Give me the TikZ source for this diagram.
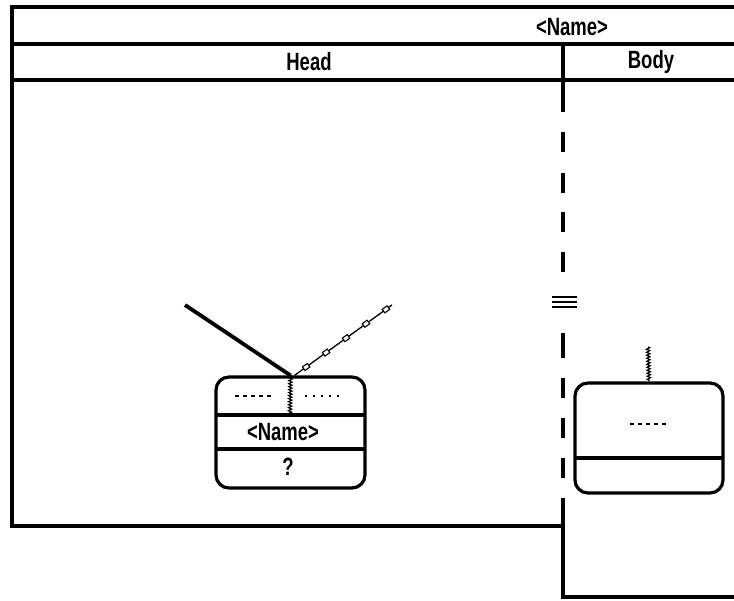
\documentclass[tikz,border=0pt]{standalone}
\usepackage{fontspec}
\usepackage{graphicx}
\setmainfont{Liberation Sans}
\usetikzlibrary{decorations.pathmorphing,decorations.markings,calc}
\newcommand{\tallt}[1]{\scalebox{1}[1.35]{#1}}
\begin{document}
\begin{tikzpicture}[x=1pt,y=-1pt,
  frame/.style={line width=3.5pt},
  lbl/.style={font=\fontsize{18.5}{20}\selectfont\bfseries, inner sep=0pt},
  boxst/.style={draw, line width=3.2pt, rounded corners=13pt, inner sep=0pt},
  wiggle/.style={line width=1.2pt, decorate, decoration={zigzag, segment length=3pt, amplitude=1.6pt}},
  sqline/.style={line width=1.3pt, postaction={decorate}, decoration={markings,
     mark=between positions 0.12 and 0.95 step 0.205 with {\draw[line width=1.1pt, fill=white] (-3,-2.2) rectangle (3,2.2);}}}
]
\useasboundingbox (0,0) rectangle (734,601);
% frame
\coordinate (tl) at (12,7);
\coordinate (tr) at (736,7);
\coordinate (bl) at (12,526);
\coordinate (bm) at (563,526);
\draw[frame] (tr) -- (tl) -- (bl) -- (bm);
\draw[frame] (12,44) -- (736,44);
\draw[frame] (12,80) -- (736,80);
\draw[frame] (563,44) -- (563,112);
\foreach \a/\b in {132/152,173/193,212/232,252/272,333/358,378/398,418/438,458/478} \draw[frame] (563,\a) -- (563,\b);
\draw[frame] (563,498) -- (563,597) -- (736,597);
\draw[line width=1.6pt] (552,297) -- (577,297) (552,302) -- (577,302) (552,307) -- (577,307);
% headings
\node[lbl] (title) at (572,27) {\tallt{<Name>}};
\node[lbl] (head) at (309,62) {\tallt{Head}};
\node[lbl] (body) at (651,62) {\tallt{Body}};
% head box
\node[boxst, minimum width=149pt, minimum height=111pt] (hb) at (290.5,432.5) {};
\draw[line width=3.2pt] (216,415) -- (365,415);
\draw[line width=3.2pt] (216,449) -- (365,449);
\draw[wiggle] (hb.north) -- (290,415);
\draw[line width=2pt, dash pattern=on 4pt off 4pt] (235,396) -- (273,396);
\draw[line width=2pt, dash pattern=on 2pt off 6pt] (305,396) -- (341,396);
\node[lbl] (nm) at (283,432) {\tallt{<Name>}};
\node[lbl] (q) at (288,467) {\tallt{?}};
% connectors
\coordinate (s1) at (185,305);
\coordinate (s2) at (392,305);
\draw[line width=3.8pt] (s1) -- (hb.north);
\draw[sqline] ($(hb.north)+(4,0)$) -- (s2);
% body box
\node[boxst, minimum width=148pt, minimum height=110pt] (bb) at (649,438) {};
\draw[line width=3.2pt] (575,458) -- (723,458);
\draw[line width=2pt, dash pattern=on 4pt off 4pt] (630,424) -- (668,424);
\coordinate (bz) at (648,347);
\draw[wiggle] (bz) -- (bb.north);
\end{tikzpicture}
\end{document}
